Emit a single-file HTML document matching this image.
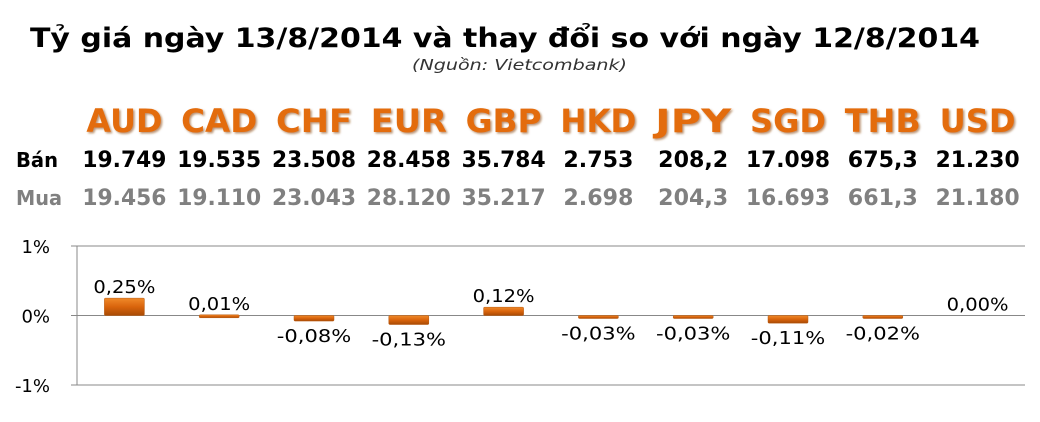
<!DOCTYPE html>
<html><head><meta charset="utf-8"><style>
body{margin:0;width:1040px;height:418px;background:#fff;overflow:hidden;font-family:"DejaVu Sans","Liberation Sans",sans-serif}
</style></head><body>
<svg id="c" width="1040" height="418">
<defs>
<linearGradient id="g" x1="0" y1="0" x2="0" y2="1"><stop offset="0" stop-color="#f08a2a"/><stop offset="0.5" stop-color="#d9640c"/><stop offset="1" stop-color="#a84a05"/></linearGradient>
<filter id="sh"><feDropShadow dx="1.5" dy="1.5" stdDeviation="1" flood-color="#8a4a10" flood-opacity="0.6"/></filter>
</defs>
<text x="30" y="47" textLength="950" lengthAdjust="spacingAndGlyphs" font-size="27" font-weight="bold" fill="#000">Tỷ giá ngày 13/8/2014 và thay đổi so với ngày 12/8/2014</text>
<text x="412" y="70" textLength="215" lengthAdjust="spacingAndGlyphs" font-size="15" font-style="italic" fill="#333">(Nguồn: Vietcombank)</text>
<text x="16" y="167" textLength="42" lengthAdjust="spacingAndGlyphs" font-size="20" font-weight="bold" fill="#000">Bán</text>
<text x="16" y="205" textLength="46" lengthAdjust="spacingAndGlyphs" font-size="20" font-weight="bold" fill="#808080">Mua</text>
<g id="plot"></g>
</svg>
<script>
const categories=["AUD","CAD","CHF","EUR","GBP","HKD","JPY","SGD","THB","USD"];
const sellRates=["19.749","19.535","23.508","28.458","35.784","2.753","208,2","17.098","675,3","21.230"];
const buyRates=["19.456","19.110","23.043","28.120","35.217","2.698","204,3","16.693","661,3","21.180"];
const changes=[0.25,0.01,-0.08,-0.13,0.12,-0.03,-0.03,-0.11,-0.02,0.00];
const yTicks=[1,0,-1];
const NS="http://www.w3.org/2000/svg";
const g=document.getElementById('plot');
const L=77,R=1025,T=246,B=385,vmax=1,vmin=-1;
const bw=(R-L)/categories.length;
const xC=i=>L+bw*(i+0.5);
const y=v=>T+(vmax-v)/(vmax-vmin)*(B-T);
function mk(t,a){const e=document.createElementNS(NS,t);for(const k in a)e.setAttribute(k,a[k]);g.appendChild(e);return e;}
let ax=mk('line',{x1:L,y1:T,x2:L,y2:B,stroke:'#888','stroke-width':1});


yTicks.forEach(v=>{
  const ln=mk('line',{x1:L-6,y1:y(v),x2:R,y2:y(v),stroke:'#888','stroke-width':1});
  
  
  const t=mk('text',{x:50,y:y(v)+7,'text-anchor':'end','font-size':18,fill:'#000'});
  t.textContent=v+'%';
  
  
});
function fit(el,s,w){el.textContent=s;el.setAttribute('textLength',w);el.setAttribute('lengthAdjust','spacingAndGlyphs');}
categories.forEach((c,i)=>{
  const x=xC(i);
  const h=mk('text',{x:x,y:132,'text-anchor':'middle','font-size':32,'font-weight':'bold',fill:'#e36c0a',filter:'url(#sh)'});
  fit(h,c,76);
  
  
  const s=mk('text',{x:x,y:167,'text-anchor':'middle','font-size':22,'font-weight':'bold',fill:'#000'});
  fit(s,sellRates[i],sellRates[i].length*14);
  
  
  const b=mk('text',{x:x,y:205,'text-anchor':'middle','font-size':22,'font-weight':'bold',fill:'#808080'});
  fit(b,buyRates[i],buyRates[i].length*14);
  
  
  const v=changes[i];
  let y0=y(0),y1=y(v);
  let top=Math.min(y0,y1),ht=Math.abs(y1-y0);
  if(v!==0&&ht<3){ht=3;}
  if(v!==0){
    const r=mk('rect',{x:x-20,y:top,width:40,height:ht,fill:'url(#g)',stroke:'#b85a10','stroke-width':0.5,rx:1});
    
    
  }
  const lbl=mk('text',{x:x,'text-anchor':'middle','font-size':18,fill:'#000'});
  lbl.setAttribute('y', v>=0 ? top-5 : top+ht+21);
  const str=v.toFixed(2).replace('.',',')+'%';
  fit(lbl,str,str.length*12.4);
  
  
});
</script>
</body></html>
